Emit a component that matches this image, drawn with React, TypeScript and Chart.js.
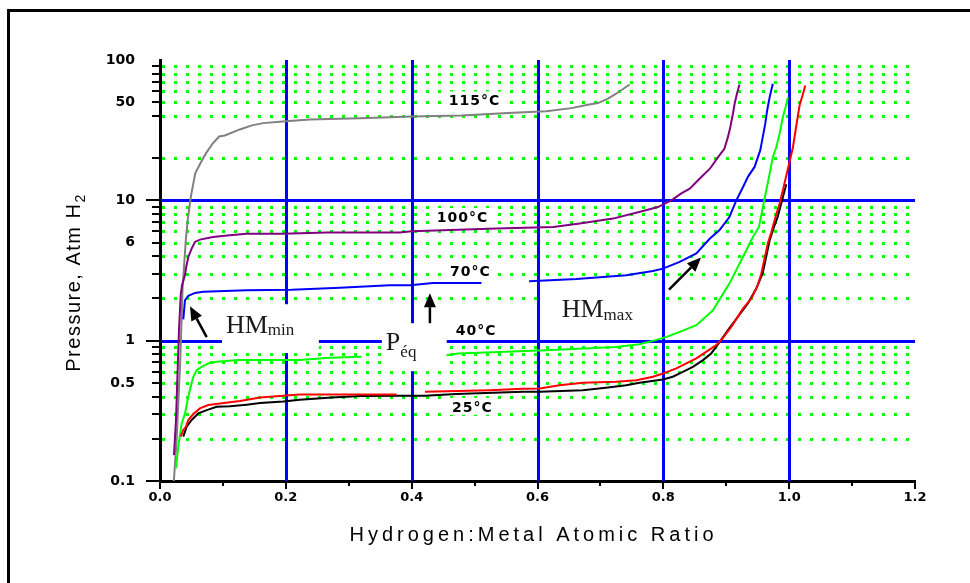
import React, { useEffect, useRef } from 'react';
import { Chart, registerables } from 'chart.js';

Chart.register(...registerables);

// ---------------- DATA ----------------
// Hydrogen:Metal atomic ratio (x) and pressure in atm H2 (p) for each isotherm
const x115 = [0.022, 0.0265, 0.032, 0.036, 0.041, 0.044, 0.049, 0.056, 0.064, 0.073, 0.084, 0.094, 0.103, 0.127, 0.146, 0.164, 0.195, 0.238, 0.318, 0.4, 0.479, 0.561, 0.614, 0.654, 0.68, 0.696, 0.712, 0.725, 0.7465];
const p115 = [0.1, 0.2, 0.69, 2.4, 5.2, 7.2, 10.6, 15.6, 18.3, 21.6, 25.5, 28.5, 29, 32, 34.2, 35.5, 36.5, 37.7, 38.5, 39.6, 40.2, 42.1, 43.2, 45.4, 48, 49.3, 53, 57.5, 66.9];

const x100 = [0.0222, 0.0254, 0.0275, 0.0302, 0.0329, 0.035, 0.0397, 0.0413, 0.045, 0.0503, 0.0556, 0.0635, 0.0842, 0.111, 0.1377, 0.195, 0.265, 0.381, 0.4, 0.535, 0.625, 0.667, 0.72, 0.7676, 0.7915, 0.8127, 0.8286, 0.842, 0.858, 0.874, 0.887, 0.897, 0.9026, 0.9065, 0.9106, 0.9133, 0.917, 0.921];
const p100 = [0.153, 0.272, 0.523, 1.19, 2.11, 2.48, 2.93, 3.28, 3.95, 4.53, 5.05, 5.25, 5.48, 5.64, 5.79, 5.79, 5.89, 5.89, 6.02, 6.29, 6.46, 6.83, 7.41, 8.39, 8.96, 10, 11.2, 12.1, 14.3, 16.8, 20.3, 23.3, 28.2, 33.3, 41.4, 48.8, 57.5, 66.9];

const x70 = [0.037, 0.0397, 0.045, 0.0556, 0.0688, 0.1377, 0.209, 0.286, 0.365, 0.397, 0.434, 0.511, null, 0.5866, 0.662, 0.741, 0.7835, 0.7994, 0.826, 0.8525, 0.874, 0.889, 0.905, 0.916, 0.9265, 0.9344, 0.945, 0.954, 0.958, 0.962, 0.965, 0.969, 0.974];
const p70 = [1.42, 1.94, 2.09, 2.19, 2.23, 2.29, 2.31, 2.38, 2.48, 2.48, 2.58, 2.58, null, 2.65, 2.75, 2.93, 3.14, 3.26, 3.64, 4.18, 5.34, 6.11, 7.61, 10, 12.4, 14.7, 17.3, 22.7, 28.2, 35.2, 43.7, 54.4, 67.7];

const x40 = [0.0254, 0.029, 0.0345, 0.0397, 0.045, 0.0488, 0.0529, 0.0583, 0.0662, 0.0767, 0.09, 0.124, 0.222, 0.27, 0.32, null, 0.4554, 0.474, 0.614, 0.725, 0.762, 0.7835, 0.805, 0.826, 0.8525, 0.879, 0.905, 0.9265, 0.9424, 0.952, 0.9583, 0.9636, 0.969, 0.974, 0.9795, 0.9848, 0.99, 0.9943, 0.998];
const p40 = [0.123, 0.175, 0.257, 0.303, 0.398, 0.469, 0.553, 0.617, 0.651, 0.688, 0.707, 0.727, 0.727, 0.755, 0.767, null, 0.788, 0.811, 0.856, 0.903, 0.944, 0.997, 1.064, 1.155, 1.29, 1.65, 2.55, 3.95, 5.48, 6.46, 8.96, 11.8, 15.5, 20.3, 23.9, 29.8, 39.2, 46.1, 54.4];

const x25a = [0.0329, 0.037, 0.0413, 0.045, 0.0529, 0.0635, 0.0767, 0.0953, 0.127, 0.159, 0.196, 0.222, 0.376, null, 0.421, 0.524, 0.577, 0.6036, 0.635, 0.672, 0.725, 0.757, 0.7835, 0.7994, 0.8207, 0.8366, 0.8525, 0.868, 0.884, 0.892, 0.908, 0.9265, 0.94, 0.95, 0.9557, 0.961, 0.966, 0.9716, 0.9768, 0.9848, 0.99, 0.998, 1.006, 1.011, 1.0165, 1.022, 1.0256];
const p25a = [0.207, 0.231, 0.244, 0.272, 0.3, 0.329, 0.348, 0.357, 0.371, 0.394, 0.405, 0.414, 0.414, null, 0.432, 0.444, 0.454, 0.457, 0.482, 0.501, 0.509, 0.523, 0.553, 0.584, 0.634, 0.688, 0.747, 0.832, 0.929, 1.01, 1.254, 1.69, 2.0, 2.48, 3.01, 3.85, 4.92, 5.92, 7.21, 9.48, 11.8, 16.8, 23.9, 33.3, 47.4, 57.5, 65.9];

const x25d = [0.037, 0.0424, 0.0503, 0.0608, 0.0742, 0.09, 0.111, 0.1377, 0.159, 0.196, 0.222, 0.2727, 0.32, 0.381, 0.421, 0.471, 0.577, 0.6036, 0.672, 0.712, 0.741, 0.762, 0.7994, 0.815, 0.831, 0.847, 0.863, 0.876, 0.884, 0.905, 0.9344, 0.9477, 0.958, 0.969, 0.9768, 0.982, 0.9954];
const p25d = [0.207, 0.244, 0.272, 0.303, 0.32, 0.338, 0.341, 0.35, 0.359, 0.369, 0.379, 0.394, 0.403, 0.405, 0.405, 0.416, 0.432, 0.432, 0.444, 0.464, 0.482, 0.501, 0.529, 0.553, 0.6, 0.651, 0.727, 0.811, 0.903, 1.23, 1.84, 2.35, 3.04, 5.19, 6.64, 7.69, 13.0];

// tick values / labels
const xTickValues = [0, 0.2, 0.4, 0.6, 0.8, 1.0, 1.2];
const xTickLabels = ['0.0', '0.2', '0.4', '0.6', '0.8', '1.0', '1.2'];
const xMinorTicks = [0.1, 0.3, 0.5, 0.7, 0.9, 1.1];
const yTickValues = [0.1, 0.5, 1, 5, 10, 50, 100];
const yTickLabels = ['0.1', '0.5', '1', '6', '10', '50', '100'];
const yMajorTicks = [0.1, 1, 10];
const yMinorTicks = [0.2, 0.3, 0.4, 0.5, 0.6, 0.7, 0.8, 0.9, 2, 3, 4, 5, 6, 7, 8, 9, 20, 40, 50, 60, 70, 80, 90];
const yDotRows = [0.2, 0.3, 0.4, 0.5, 0.6, 0.7, 0.8, 0.9, 2, 3, 4, 5, 6, 7, 8, 9, 20, 40, 50, 60, 70, 80, 90];
const xBlueLines = [0.2, 0.4, 0.6, 0.8, 1.0];
const yBlueLines = [1, 10];

// isotherm labels (x, pressure at text baseline)
const tempLabels = ['115°C', '100°C', '70°C', '40°C', '25°C'];
const tempLabelX = [0.459, 0.44, 0.461, 0.47, 0.464];
const tempLabelP = [47.4, 7.01, 2.88, 1.095, 0.311];

// annotations (data coordinates)
const noteMain = ['HM', 'P', 'HM'];
const noteSub = ['min', 'éq', 'max'];
const noteX = [0.1048, 0.359, 0.6385];
const noteP = [1.131, 0.856, 1.477];
const noteBoxX0 = [0.0985, 0.3526, 0.607];
const noteBoxX1 = [0.2525, 0.4558, 0.793];
const noteBoxPLow = [0.815, 0.606, 1.077];
const noteBoxPHigh = [1.819, 1.332, 2.443];
const arrowFromX = [0.0742, 0.429, 0.809];
const arrowFromP = [1.059, 1.332, 2.314];
const arrowToX = [0.0477, 0.429, 0.86];
const arrowToP = [1.76, 2.178, 3.91];

const xTitle = 'Hydrogen:Metal Atomic Ratio';
const yTitle = 'Pressure, Atm H';
const yTitleSub = '2';

const series = [
  { label: '25°C', xs: x25a, ps: p25a, color: '#ff0000' },
  { label: '25°C ', xs: x25d, ps: p25d, color: '#000000' },
  { label: '40°C', xs: x40, ps: p40, color: '#00ff00' },
  { label: '70°C', xs: x70, ps: p70, color: '#0000ff' },
  { label: '100°C', xs: x100, ps: p100, color: '#800080' },
  { label: '115°C', xs: x115, ps: p115, color: '#808080' },
];

// ---------------- DRAWING HELPERS ----------------
const LABEL_FONT = "bold 14px 'DejaVu Sans'";

function drawArrow(ctx: CanvasRenderingContext2D, x0: number, y0: number, x1: number, y1: number) {
  const ang = Math.atan2(y1 - y0, x1 - x0);
  const headLen = 14;
  const headW = 6;
  const bx = x1 - headLen * Math.cos(ang);
  const by = y1 - headLen * Math.sin(ang);
  ctx.strokeStyle = '#000';
  ctx.lineWidth = 2.5;
  ctx.beginPath();
  ctx.moveTo(x0, y0);
  ctx.lineTo(bx, by);
  ctx.stroke();
  ctx.fillStyle = '#000';
  ctx.beginPath();
  ctx.moveTo(x1, y1);
  ctx.lineTo(bx + headW * Math.sin(ang), by - headW * Math.cos(ang));
  ctx.lineTo(bx - headW * Math.sin(ang), by + headW * Math.cos(ang));
  ctx.closePath();
  ctx.fill();
}

const decorPlugin = {
  id: 'decor',
  beforeDraw(chart: any) {
    const { ctx, width, height } = chart;
    ctx.save();
    ctx.fillStyle = '#ffffff';
    ctx.fillRect(0, 0, width, height);
    ctx.strokeStyle = '#000';
    ctx.lineWidth = 3;
    ctx.beginPath();
    ctx.moveTo(8.5, height + 5);
    ctx.lineTo(8.5, 10.5);
    ctx.lineTo(width + 5, 10.5);
    ctx.stroke();
    ctx.restore();
  },
  beforeDatasetsDraw(chart: any) {
    const { ctx, chartArea: a } = chart;
    const sx = chart.scales.x;
    const sy = chart.scales.y;
    ctx.save();
    // green dotted rows
    ctx.strokeStyle = '#00ff00';
    ctx.lineWidth = 3;
    ctx.setLineDash([3, 9]);
    for (const v of yDotRows) {
      const y = Math.round(sy.getPixelForValue(v)) + 0.5;
      ctx.beginPath();
      ctx.moveTo(a.left + 2, y);
      ctx.lineTo(a.right - 4, y);
      ctx.stroke();
    }
    ctx.setLineDash([]);
    // blue grid lines
    ctx.strokeStyle = '#0000ff';
    ctx.lineWidth = 3;
    for (const v of xBlueLines) {
      const x = Math.round(sx.getPixelForValue(v)) + 0.5;
      ctx.beginPath();
      ctx.moveTo(x, a.top);
      ctx.lineTo(x, a.bottom);
      ctx.stroke();
    }
    for (const v of yBlueLines) {
      const y = Math.round(sy.getPixelForValue(v)) + 0.5;
      ctx.beginPath();
      ctx.moveTo(a.left + 1, y);
      ctx.lineTo(a.right, y);
      ctx.stroke();
    }
    // white annotation boxes
    ctx.fillStyle = '#ffffff';
    for (let i = 0; i < noteMain.length; i++) {
      const x0 = sx.getPixelForValue(noteBoxX0[i]);
      const x1 = sx.getPixelForValue(noteBoxX1[i]);
      const y0 = sy.getPixelForValue(noteBoxPHigh[i]);
      const y1 = sy.getPixelForValue(noteBoxPLow[i]);
      ctx.fillRect(x0, y0, x1 - x0, y1 - y0);
    }
    // white backgrounds behind isotherm labels
    ctx.font = LABEL_FONT;
    (ctx as any).letterSpacing = '1px';
    for (let i = 0; i < tempLabels.length; i++) {
      const x = sx.getPixelForValue(tempLabelX[i]);
      const y = sy.getPixelForValue(tempLabelP[i]);
      const w = ctx.measureText(tempLabels[i]).width;
      ctx.fillRect(x - 3, y - 14, w + 6, 17);
    }
    (ctx as any).letterSpacing = '0px';
    // tick marks
    ctx.strokeStyle = '#000';
    ctx.lineWidth = 2;
    for (const v of yMinorTicks) {
      const y = Math.round(sy.getPixelForValue(v));
      ctx.beginPath();
      ctx.moveTo(a.left - 8, y);
      ctx.lineTo(a.left, y);
      ctx.stroke();
    }
    for (const v of yMajorTicks) {
      const y = Math.round(sy.getPixelForValue(v));
      ctx.beginPath();
      ctx.moveTo(a.left - 14, y);
      ctx.lineTo(a.left, y);
      ctx.stroke();
    }
    for (const v of xMinorTicks) {
      const x = Math.round(sx.getPixelForValue(v));
      ctx.beginPath();
      ctx.moveTo(x, a.bottom);
      ctx.lineTo(x, a.bottom + 5);
      ctx.stroke();
    }
    for (const v of xTickValues) {
      const x = Math.round(sx.getPixelForValue(v));
      ctx.beginPath();
      ctx.moveTo(x, a.bottom);
      ctx.lineTo(x, a.bottom + 8);
      ctx.stroke();
    }
    ctx.restore();
  },
  afterDatasetsDraw(chart: any) {
    const { ctx } = chart;
    const sx = chart.scales.x;
    const sy = chart.scales.y;
    ctx.save();
    // isotherm labels
    ctx.fillStyle = '#000';
    ctx.font = LABEL_FONT;
    (ctx as any).letterSpacing = '1px';
    ctx.textAlign = 'left';
    ctx.textBaseline = 'alphabetic';
    for (let i = 0; i < tempLabels.length; i++) {
      ctx.fillText(tempLabels[i], sx.getPixelForValue(tempLabelX[i]), sy.getPixelForValue(tempLabelP[i]));
    }
    (ctx as any).letterSpacing = '0px';
    // HM / P annotations
    ctx.fillStyle = '#1a1a1a';
    const subOffset = [2, 7, 3];
    for (let i = 0; i < noteMain.length; i++) {
      const x = sx.getPixelForValue(noteX[i]);
      const y = sy.getPixelForValue(noteP[i]);
      ctx.font = "26px 'Liberation Serif'";
      ctx.fillText(noteMain[i], x, y);
      const w = ctx.measureText(noteMain[i]).width;
      ctx.font = "17px 'Liberation Serif'";
      ctx.fillText(noteSub[i], x + w, y + subOffset[i]);
    }
    // arrows
    for (let i = 0; i < arrowFromX.length; i++) {
      drawArrow(
        ctx,
        sx.getPixelForValue(arrowFromX[i]),
        sy.getPixelForValue(arrowFromP[i]),
        sx.getPixelForValue(arrowToX[i]),
        sy.getPixelForValue(arrowToP[i])
      );
    }
    ctx.restore();
  },
  afterDraw(chart: any) {
    const { ctx, chartArea: a } = chart;
    ctx.save();
    ctx.fillStyle = '#000';
    // x axis title
    ctx.font = "20px 'Liberation Sans'";
    (ctx as any).letterSpacing = '4px';
    ctx.textAlign = 'center';
    ctx.textBaseline = 'middle';
    ctx.fillText(xTitle, (a.left + a.right) / 2 - 4, a.bottom + 54);
    // y axis title (rotated)
    ctx.translate(73, (a.top + a.bottom) / 2 + 12);
    ctx.rotate(-Math.PI / 2);
    ctx.font = "20px 'Liberation Sans'";
    (ctx as any).letterSpacing = '1.5px';
    const wMain = ctx.measureText(yTitle).width;
    ctx.font = "14px 'Liberation Sans'";
    const wSub = ctx.measureText(yTitleSub).width;
    const start = -(wMain + wSub) / 2;
    ctx.textAlign = 'left';
    ctx.textBaseline = 'alphabetic';
    ctx.font = "20px 'Liberation Sans'";
    ctx.fillText(yTitle, start, 7);
    ctx.font = "14px 'Liberation Sans'";
    ctx.fillText(yTitleSub, start + wMain, 12);
    ctx.restore();
  },
};

export default function App() {
  const canvasRef = useRef<HTMLCanvasElement | null>(null);

  useEffect(() => {
    const canvas = canvasRef.current;
    if (!canvas) return;
    const datasets = series.map((s) => ({
      label: s.label,
      data: s.xs.map((x, i) => ({ x: x as any, y: s.ps[i] as any })),
      borderColor: s.color,
      backgroundColor: s.color,
      borderWidth: 2,
      pointRadius: 0,
      showLine: true,
      tension: 0,
      spanGaps: false,
      fill: false,
    }));

    const chart = new Chart(canvas, {
      type: 'scatter',
      data: { datasets },
      plugins: [decorPlugin],
      options: {
        animation: false,
        responsive: false,
        devicePixelRatio: 1,
        events: [],
        layout: { padding: { left: 0, top: 60, right: 55, bottom: 0 } },
        plugins: {
          legend: { display: false },
          tooltip: { enabled: false },
          title: { display: false },
        },
        scales: {
          x: {
            type: 'linear',
            min: 0,
            max: 1.2,
            grid: { display: false, drawTicks: false },
            border: { display: true, color: '#000', width: 3 },
            afterFit: (scale: any) => {
              scale.height = 102;
            },
            afterBuildTicks: (scale: any) => {
              scale.ticks = xTickValues.map((v) => ({ value: v }));
            },
            ticks: {
              autoSkip: false,
              maxRotation: 0,
              padding: 9,
              color: '#000',
              font: { family: 'DejaVu Sans', weight: 'bold', size: 13 },
              callback: (v: any, i: number) => xTickLabels[i],
            },
          },
          y: {
            type: 'logarithmic',
            min: 0.1,
            max: 100,
            grid: { display: false, drawTicks: false },
            border: { display: true, color: '#000', width: 3 },
            afterFit: (scale: any) => {
              scale.width = 160;
            },
            afterBuildTicks: (scale: any) => {
              scale.ticks = yTickValues.map((v) => ({ value: v }));
            },
            ticks: {
              autoSkip: false,
              padding: 25,
              color: '#000',
              font: { family: 'DejaVu Sans', weight: 'bold', size: 14 },
              callback: (v: any) => {
                const j = yTickValues.findIndex((t) => Math.abs(t - Number(v)) < 1e-9);
                return j >= 0 ? yTickLabels[j] : '';
              },
            },
          },
        },
      } as any,
    });
    return () => chart.destroy();
  }, []);

  return (
    <div style={{ position: 'fixed', left: 0, top: 0, width: 970, height: 583, background: '#fff' }}>
      <canvas ref={canvasRef} width={970} height={583} style={{ display: 'block', width: 970, height: 583 }} />
    </div>
  );
}
